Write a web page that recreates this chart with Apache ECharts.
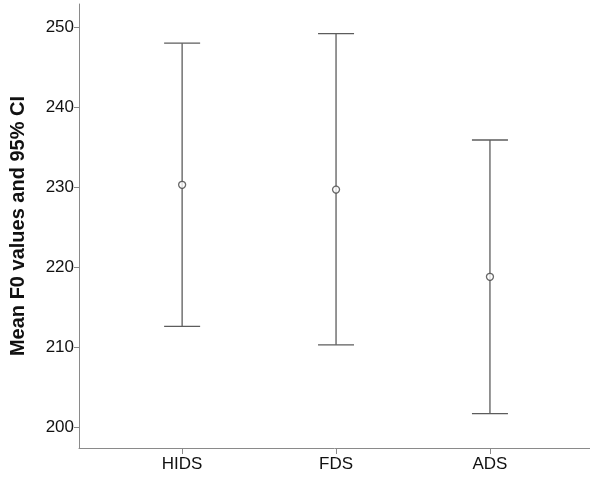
<!DOCTYPE html>
<html>
<head>
<meta charset="utf-8">
<script src="https://cdn.jsdelivr.net/npm/echarts@6/dist/echarts.min.js"></script>
<style>
  html, body { margin: 0; padding: 0; background: #fff; }
  #chart { width: 590px; height: 481px; }
</style>
</head>
<body>
<div id="chart"></div>
<script>
(function(){

    // groups and their mean / 95% CI bounds
    let categories = ['HIDS', 'FDS', 'ADS'];
    let means = [230.3, 229.7, 218.8];
    let upper = [248.0, 249.2, 235.9];
    let lower = [212.6, 210.3, 201.7];
    let yTicks = [200, 210, 220, 230, 240, 250];

    let font = 'Liberation Sans, Arial, sans-serif';
    let lineColor = '#5c5c5c';

    let barData = categories.map((c, i) => [i + 1, lower[i], upper[i]]);
    let meanData = categories.map((c, i) => [i + 1, means[i]]);

    let chart = echarts.init(document.getElementById('chart'));

    chart.setOption({
        animation: false,
        grid: {
            left: 79,
            right: 0,
            top: 4,
            bottom: 33,
            outerBoundsMode: 'none'
        },
        xAxis: {
            type: 'value',
            min: 0.33,
            max: 3.65,
            splitLine: { show: false },
            axisLine: { lineStyle: { color: '#8a8a8a', width: 1 } },
            axisTick: {
                show: true,
                length: 6,
                customValues: [1, 2, 3],
                lineStyle: { color: '#8a8a8a' }
            },
            axisLabel: {
                customValues: [1, 2, 3],
                margin: 8,
                color: '#111',
                fontFamily: font,
                fontSize: 17,
                formatter: function(v) { return categories[Math.round(v) - 1] || ''; }
            }
        },
        yAxis: {
            type: 'value',
            min: 197.4,
            max: 252.9,
            name: 'Mean F0 values and 95% CI',
            nameLocation: 'middle',
            nameRotate: 90,
            nameGap: 51,
            nameTextStyle: {
                color: '#111',
                fontFamily: font,
                fontSize: 20,
                fontWeight: 'bold'
            },
            splitLine: { show: false },
            axisLine: { show: true, lineStyle: { color: '#8a8a8a', width: 1 } },
            axisTick: {
                show: true,
                length: 5,
                customValues: yTicks,
                lineStyle: { color: '#8a8a8a' }
            },
            axisLabel: {
                customValues: yTicks,
                margin: 5,
                color: '#111',
                fontFamily: font,
                fontSize: 17
            }
        },
        series: [
            {
                type: 'custom',
                data: barData,
                renderItem: function(params, api) {
                    let x = api.value(0);
                    let lo = api.coord([x, api.value(1)]);
                    let hi = api.coord([x, api.value(2)]);
                    let half = 18;
                    let style = { stroke: lineColor, lineWidth: 1.3 };
                    return {
                        type: 'group',
                        children: [
                            { type: 'line', shape: { x1: hi[0], y1: hi[1], x2: lo[0], y2: lo[1] }, style: style },
                            { type: 'line', shape: { x1: hi[0] - half, y1: hi[1], x2: hi[0] + half, y2: hi[1] }, style: style },
                            { type: 'line', shape: { x1: lo[0] - half, y1: lo[1], x2: lo[0] + half, y2: lo[1] }, style: style }
                        ]
                    };
                },
                z: 2
            },
            {
                type: 'scatter',
                data: meanData,
                symbol: 'circle',
                symbolSize: 7,
                itemStyle: { color: '#fff', borderColor: '#444', borderWidth: 1.3 },
                z: 3
            }
        ]
    });
})();
</script>
</body>
</html>
